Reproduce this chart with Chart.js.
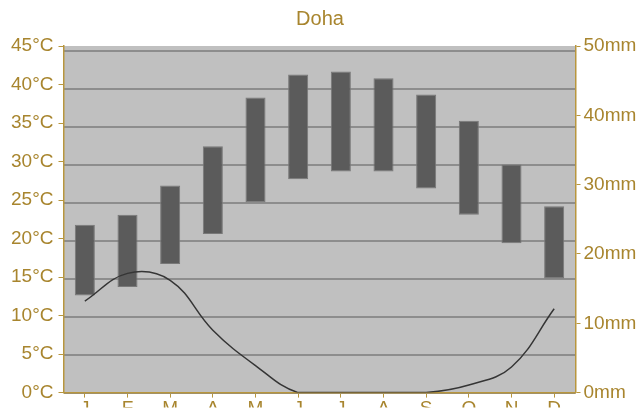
<!DOCTYPE html>
<html>
<head>
<meta charset="utf-8">
<script src="https://cdn.jsdelivr.net/npm/chart.js@4/dist/chart.umd.min.js"></script>
<style>
html,body{margin:0;padding:0;background:#fff;overflow:hidden;}
#wrap{width:640px;height:409px;}
</style>
</head>
<body>
<div id="wrap"><canvas id="c" width="640" height="409"></canvas></div>
<script>
// Data
const months = ['J','F','M','A','M','J','J','A','S','O','N','D'];
const tempMax = [21.8, 23.1, 26.9, 32.0, 38.3, 41.3, 41.7, 40.8, 38.7, 35.3, 29.6, 24.2];
const tempMin = [12.6, 13.7, 16.7, 20.6, 24.7, 27.7, 28.7, 28.7, 26.5, 23.1, 19.4, 14.8];
const precipMm = [13.2, 17.2, 16.2, 9.0, 3.9, 0, 0, 0, 0, 1.1, 3.7, 12.1];
const tempTicks = [0, 5, 10, 15, 20, 25, 30, 35, 40, 45];
const precipTicks = [0, 10, 20, 30, 40, 50];

const gold = '#a8852e';
const axisGold = '#b8963e';
const font = {family: '"Liberation Sans", Arial, sans-serif', size: 19};

const tempRanges = months.map((m, i) => [tempMin[i], tempMax[i]]);

const plotBg = {
  id: 'plotBg',
  beforeDraw(chart) {
    const a = chart.chartArea;
    const ctx = chart.ctx;
    ctx.save();
    ctx.fillStyle = '#c0c0c0';
    ctx.fillRect(a.left, a.top, a.right - a.left, a.bottom - a.top);
    ctx.restore();
  }
};

new Chart(document.getElementById('c'), {
  type: 'bar',
  data: {
    labels: months,
    datasets: [
      {
        type: 'line',
        label: 'Precipitation',
        data: precipMm,
        yAxisID: 'yR',
        borderColor: '#353535',
        borderWidth: 1.5,
        pointRadius: 0,
        tension: 0.4,
        fill: false,
        order: 0
      },
      {
        type: 'bar',
        label: 'Temperature',
        data: tempRanges,
        yAxisID: 'y',
        backgroundColor: '#5b5b5b',
        borderColor: '#787878',
        borderWidth: 1,
        borderSkipped: false,
        categoryPercentage: 1,
        barPercentage: 0.47,
        order: 1
      }
    ]
  },
  options: {
    responsive: false,
    animation: false,
    layout: {padding: 0},
    plugins: {
      legend: {display: false},
      tooltip: {enabled: false},
      title: {
        display: true,
        text: 'Doha',
        color: gold,
        font: {family: '"Liberation Sans", Arial, sans-serif', size: 20, weight: 'normal'},
        padding: {top: 7, bottom: 15}
      }
    },
    scales: {
      x: {
        offset: true,
        grid: {display: true, drawOnChartArea: false, drawTicks: true, tickLength: 5, color: axisGold, lineWidth: 1, offset: false},
        border: {display: true, color: axisGold, width: 1.5},
        ticks: {color: gold, font: font, padding: 0, maxRotation: 0, autoSkip: false},
        afterFit(s) { s.height = 15; }
      },
      g: {
        type: 'linear',
        position: 'left',
        min: 0,
        max: 45.6,
        display: true,
        ticks: {display: false, stepSize: 5},
        border: {display: false},
        grid: {drawTicks: false, color: '#8d8d8d', lineWidth: 2},
        afterBuildTicks(s) { s.ticks = tempTicks.map(v => ({value: v})); },
        afterFit(s) { s.width = 0; }
      },
      y: {
        type: 'linear',
        position: 'left',
        min: 0,
        max: 45,
        grid: {drawOnChartArea: false, drawTicks: true, tickLength: 5, color: axisGold, lineWidth: 1},
        border: {display: true, color: axisGold, width: 1.5},
        ticks: {color: gold, font: font, padding: 5, stepSize: 5, callback: v => v + '°C'},
        afterBuildTicks(s) { s.ticks = tempTicks.map(v => ({value: v})); },
        afterFit(s) { s.width = 63.5; }
      },
      yR: {
        type: 'linear',
        position: 'right',
        min: 0,
        max: 50,
        grid: {drawOnChartArea: false, drawTicks: true, tickLength: 5, color: axisGold, lineWidth: 1},
        border: {display: true, color: axisGold, width: 1.5},
        ticks: {color: gold, font: font, padding: 3, stepSize: 10, callback: v => v + 'mm'},
        afterBuildTicks(s) { s.ticks = precipTicks.map(v => ({value: v})); },
        afterFit(s) { s.width = 64.5; }
      }
    }
  },
  plugins: [plotBg]
});
</script>
</body>
</html>
